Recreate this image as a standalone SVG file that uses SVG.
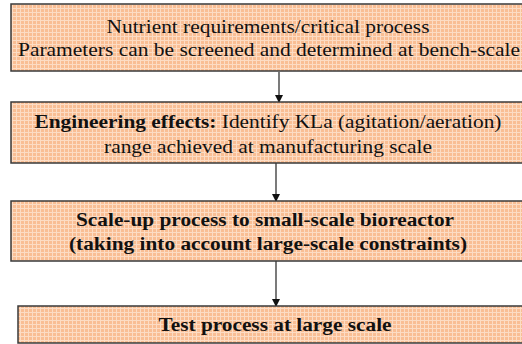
<svg xmlns="http://www.w3.org/2000/svg" width="522" height="344" viewBox="0 0 522 344">
<defs>
<pattern id="grid" width="4" height="4" patternUnits="userSpaceOnUse">
<rect width="4" height="4" fill="#F9BE94"/>
<rect x="0" y="0" width="4" height="1" fill="#FCDCC4"/>
<rect x="0" y="0" width="1" height="4" fill="#FCDCC4"/>
</pattern>
<marker id="ah" markerWidth="8" markerHeight="8" refX="7" refY="4" orient="auto" markerUnits="userSpaceOnUse">
<path d="M0,0 L8,4 L0,8 z" fill="#111"/>
</marker>
<style>
.box{fill:url(#grid);stroke:#3a3a3a;stroke-width:1.5}
.c{stroke:#222;stroke-width:1.2;fill:none;marker-end:url(#ah)}
text{font-family:"Liberation Serif","DejaVu Serif",serif;font-size:18px;fill:#111;text-anchor:middle}
</style>
</defs>
<g id="connectors">
<line class="c" x1="279" y1="72" x2="279" y2="102"/>
<line class="c" x1="276" y1="163" x2="276" y2="201"/>
<line class="c" x1="276" y1="261" x2="276" y2="306"/>
</g>
<g id="node1">
<rect class="box" x="11" y="4" width="520" height="67"/>
<text x="268" y="33" textLength="323" lengthAdjust="spacingAndGlyphs">Nutrient requirements/critical process</text>
<text x="269" y="56" textLength="502" lengthAdjust="spacingAndGlyphs">Parameters can be screened and determined at bench-scale</text>
</g>
<g id="node2">
<rect class="box" x="11" y="102" width="520" height="61"/>
<text x="268" y="128" textLength="467" lengthAdjust="spacingAndGlyphs"><tspan font-weight="bold">Engineering effects:</tspan> Identify KLa (agitation/aeration)</text>
<text x="268" y="153" textLength="328" lengthAdjust="spacingAndGlyphs">range achieved at manufacturing scale</text>
</g>
<g id="node3" font-weight="bold">
<rect class="box" x="11" y="201" width="520" height="60"/>
<text x="265" y="226" textLength="378" lengthAdjust="spacingAndGlyphs">Scale-up process to small-scale bioreactor</text>
<text x="268" y="250" textLength="398" lengthAdjust="spacingAndGlyphs">(taking into account large-scale constraints)</text>
</g>
<g id="node4" font-weight="bold">
<rect class="box" x="18" y="306" width="520" height="37"/>
<text x="275" y="331" textLength="233" lengthAdjust="spacingAndGlyphs">Test process at large scale</text>
</g>
</svg>
